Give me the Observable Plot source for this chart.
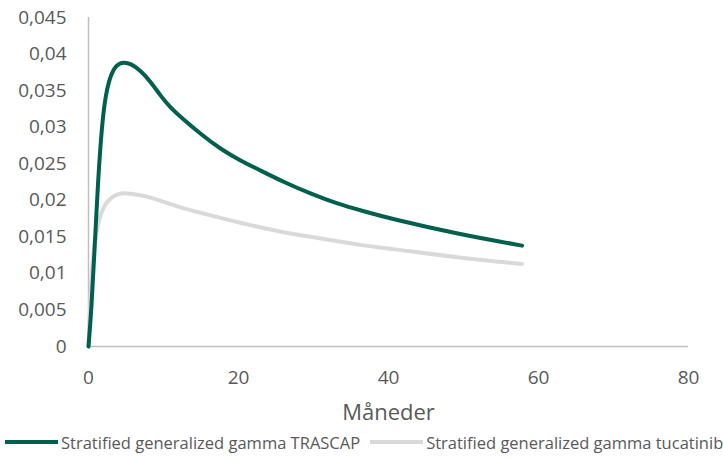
<!DOCTYPE html>
<html>
<head>
<meta charset="utf-8">
<script src="https://cdn.jsdelivr.net/npm/d3@7"></script>
<script src="https://cdn.jsdelivr.net/npm/@observablehq/plot@0.6"></script>
<style>
  body { margin: 0; background: #fff; font-family: "Open Sans", sans-serif; }
  #legend { height: 34px; display: flex; align-items: center; padding-left: 5px;
    font-family: "Open Sans", sans-serif; font-size: 16.5px; color: #595959; white-space: nowrap; }
  .sw { display: inline-block; height: 4px; width: 53px; margin-right: 3px; }
</style>
</head>
<body>
<div id="chart"></div>
<div id="legend"></div>
<script>
const months = [0, 0.4, 0.8, 1.25, 1.7, 2.15, 2.8, 3.7, 4.7, 5.6, 6.9, 8.3, 9.6, 10.9, 12.3, 14.9, 17.6, 20.3, 22.5, 26, 29.6, 33.2, 36.7, 40.2, 49.6, 57.8]
const trascap = [0, 0.0052, 0.0131, 0.0223, 0.0291, 0.0336, 0.0368, 0.0386, 0.0389, 0.0387, 0.0378, 0.0362, 0.0343, 0.0327, 0.0314, 0.0291, 0.027, 0.0254, 0.0243, 0.0225, 0.0209, 0.0195, 0.0185, 0.0175, 0.0153, 0.0138]
const tucatinib = [0, 0.0105, 0.014, 0.0168, 0.0183, 0.0193, 0.0202, 0.0208, 0.021, 0.0209, 0.0207, 0.0204, 0.0199, 0.0195, 0.019, 0.0183, 0.0176, 0.0169, 0.0164, 0.0156, 0.015, 0.0144, 0.0138, 0.0134, 0.0121, 0.0113]
const seriesNames = ['Stratified generalized gamma TRASCAP', 'Stratified generalized gamma tucatinib']
const colors = ['#00604d', '#d9d9d9']
const yTicks = [0, 0.005, 0.01, 0.015, 0.02, 0.025, 0.03, 0.035, 0.04, 0.045]
const xTicks = [0, 20, 40, 60, 80]

const data = []
months.forEach((m, i) => {
    data.push({ m, v: trascap[i], s: seriesNames[0] })
    data.push({ m, v: tucatinib[i], s: seriesNames[1] })
})

const comma = d => String(d).replace('.', ',')

let chart = Plot.plot({
    width: 723,
    height: 425,
    marginLeft: 88,
    marginRight: 35,
    marginTop: 17,
    marginBottom: 79,
    style: { fontFamily: '"Open Sans", sans-serif', fontSize: '19px', color: '#595959', background: '#fff' },
    x: { domain: [0, 80], ticks: xTicks, tickSize: 0, tickPadding: 24, tickFormat: comma, label: null },
    y: { domain: [0, 0.045], ticks: yTicks, tickSize: 0, tickPadding: 22, tickFormat: comma, label: null },
    color: { domain: seriesNames, range: colors },
    marks: [
        Plot.ruleY([0], { stroke: '#bfbfbf', strokeWidth: 1.5 }),
        Plot.ruleX([0], { stroke: '#bfbfbf', strokeWidth: 1.5 }),
        Plot.line(data.filter(d => d.s === seriesNames[1]), { x: 'm', y: 'v', stroke: 's', strokeWidth: 4, curve: 'basis' }),
        Plot.line(data.filter(d => d.s === seriesNames[0]), { x: 'm', y: 'v', stroke: 's', strokeWidth: 4, curve: 'basis' }),
        Plot.text(['Måneder'], { frameAnchor: 'bottom', dy: 73, fontSize: 22, fill: '#595959' })
    ]
})

d3.select('#chart').append(() => chart)

const legend = d3.select('#legend')
seriesNames.forEach((name, i) => {
    const item = legend.append('span').style('display', 'inline-flex').style('align-items', 'center')
        .style('margin-right', i === 0 ? '10px' : '0')
    item.append('span').attr('class', 'sw').style('background', colors[i])
    item.append('span').text(name)
})
</script>
</body>
</html>
